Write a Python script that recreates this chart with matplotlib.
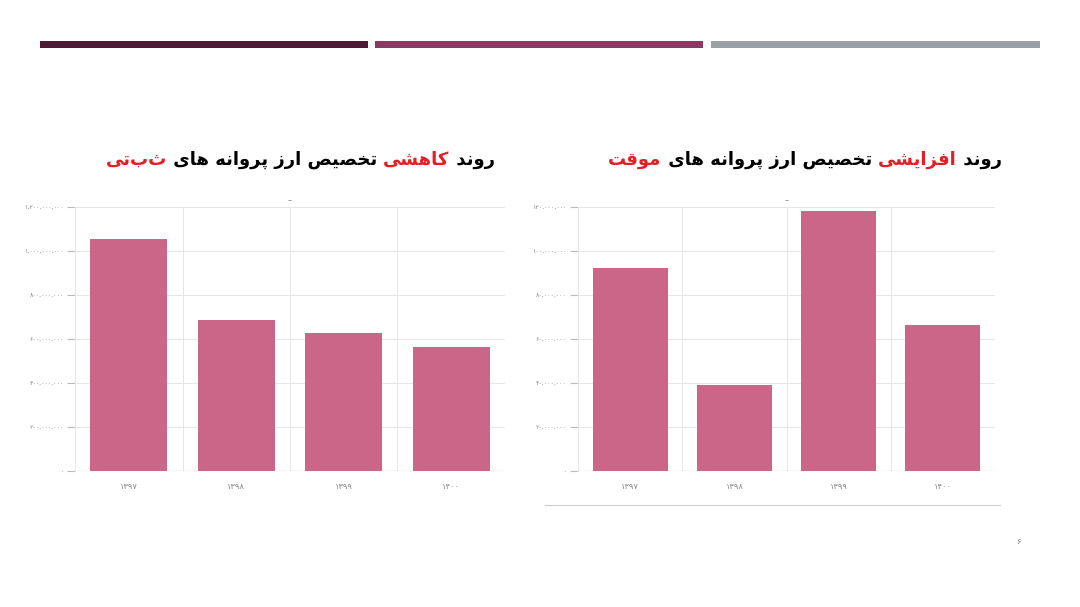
import matplotlib
matplotlib.use("Agg")
import matplotlib.pyplot as plt
from matplotlib.offsetbox import TextArea, HPacker, AnchoredOffsetbox

years = ["1397", "1398", "1399", "1400"]
fixed_values = [1055e6, 686e6, 627e6, 564e6]       # ثبتی
temp_values = [92.3e6, 39.1e6, 118.2e6, 66.4e6]    # موقت
fixed_ticks = [0, 200e6, 400e6, 600e6, 800e6, 1000e6, 1200e6]
temp_ticks = [0, 20e6, 40e6, 60e6, 80e6, 100e6, 120e6]

title_left = [("روند ", "black"), ("کاهشی", "#e31e24"),
              (" تخصیص ارز پروانه های ", "black"), ("ثبتی", "#e31e24")]
title_right = [("روند ", "black"), ("افزایشی", "#e31e24"),
               (" تخصیص ارز پروانه های ", "black"), ("موقت", "#e31e24")]

BAR = "#cc6688"
FA_DIGITS = str.maketrans("0123456789", "۰۱۲۳۴۵۶۷۸۹")

# minimal Arabic shaping: isolated, final, initial, medial
FORMS = {
    "ا": (0xFE8D, 0xFE8E, None, None), "د": (0xFEA9, 0xFEAA, None, None),
    "ر": (0xFEAD, 0xFEAE, None, None), "ز": (0xFEAF, 0xFEB0, None, None),
    "و": (0xFEED, 0xFEEE, None, None),
    "ن": (0xFEE5, 0xFEE6, 0xFEE7, 0xFEE8), "ه": (0xFEE9, 0xFEEA, 0xFEEB, 0xFEEC),
    "ش": (0xFEB5, 0xFEB6, 0xFEB7, 0xFEB8), "ت": (0xFE95, 0xFE96, 0xFE97, 0xFE98),
    "ث": (0xFE99, 0xFE9A, 0xFE9B, 0xFE9C), "خ": (0xFEA5, 0xFEA6, 0xFEA7, 0xFEA8),
    "ص": (0xFEB9, 0xFEBA, 0xFEBB, 0xFEBC), "م": (0xFEE1, 0xFEE2, 0xFEE3, 0xFEE4),
    "ق": (0xFED5, 0xFED6, 0xFED7, 0xFED8), "ف": (0xFED1, 0xFED2, 0xFED3, 0xFED4),
    "پ": (0xFB56, 0xFB57, 0xFB58, 0xFB59), "ک": (0xFB8E, 0xFB8F, 0xFB90, 0xFB91),
    "ی": (0xFBFC, 0xFBFD, 0xFBFE, 0xFBFF),
}


def shape(s):
    out = []
    for i, ch in enumerate(s):
        if ch not in FORMS:
            out.append(ch)
            continue
        prev = s[i - 1] if i > 0 else ""
        nxt = s[i + 1] if i + 1 < len(s) else ""
        join_prev = prev in FORMS and FORMS[prev][2] is not None
        join_next = nxt in FORMS and FORMS[ch][2] is not None
        iso, fin, ini, med = FORMS[ch]
        if join_prev and join_next:
            cp = med
        elif join_prev:
            cp = fin
        elif join_next:
            cp = ini
        else:
            cp = iso
        out.append(chr(cp))
    return "".join(out)[::-1]


def fmt(v):
    return f"{int(v):,}".translate(FA_DIGITS)


fig = plt.figure(figsize=(10.8, 6.07), dpi=100)
W, H = 1080, 607

# top decorative stripes
for x0, x1, c in [(40, 368, "#4d1a36"), (375, 703, "#8c3a63"), (711, 1040, "#9aa0a6")]:
    fig.add_artist(plt.Rectangle((x0 / W, 1 - 48 / H), (x1 - x0) / W, 7 / H,
                                 transform=fig.transFigure, color=c, lw=0))


def draw_panel(rect, values, ticks, title_parts, title_x):
    ax = fig.add_axes(rect)
    x = range(len(years))
    ax.bar(x, values, width=0.72, color=BAR, zorder=2)
    ax.set_xlim(-0.5, len(years) - 0.5)
    ax.set_ylim(0, ticks[-1])
    ax.set_yticks(ticks)
    ax.set_yticklabels([fmt(t) for t in ticks], fontsize=4.5, color="#888888")
    ax.set_xticks(list(x))
    ax.set_xticklabels([y.translate(FA_DIGITS) for y in years], fontsize=6, color="#888888")
    ax.set_xticks([i + 0.5 for i in range(len(years) - 1)], minor=True)
    ax.grid(axis="y", color="#e6e6e6", lw=0.7, zorder=0)
    ax.grid(axis="x", which="minor", color="#e6e6e6", lw=0.7, zorder=0)
    ax.tick_params(axis="both", which="both", length=0, pad=8)
    ax.tick_params(axis="y", length=6, color="#bbbbbb", pad=2)
    for s in ["top", "right", "bottom"]:
        ax.spines[s].set_visible(False)
    ax.spines["left"].set_color("#e6e6e6")
    ax.axhline(0, color="#888888", lw=0.8, zorder=3)
    ax.set_title("–", fontsize=6, color="#888888", pad=3)
    # title, right-to-left pieces laid out left to right visually
    areas = [TextArea(shape(t), textprops=dict(color=c, fontsize=13, fontweight="bold",
                                               family="DejaVu Sans"))
             for t, c in reversed(title_parts)]
    box = HPacker(children=areas, align="baseline", pad=0, sep=0)
    anch = AnchoredOffsetbox(loc="center", child=box, frameon=False,
                             bbox_to_anchor=(title_x, 1 - 160 / H),
                             bbox_transform=fig.transFigure, pad=0, borderpad=0)
    fig.add_artist(anch)
    return ax


draw_panel([75 / W, 1 - 471 / H, 430 / W, 264 / H], fixed_values, fixed_ticks, title_left, 300 / W)
draw_panel([578 / W, 1 - 471 / H, 417 / W, 264 / H], temp_values, temp_ticks, title_right, 805 / W)

fig.add_artist(plt.Line2D([545 / W, 1000 / W], [1 - 505 / H, 1 - 505 / H],
                          transform=fig.transFigure, color="#cccccc", lw=0.8))
fig.text(1018 / W, 1 - 541 / H, "۶", fontsize=6, color="#777777", ha="center", va="center")

fig.savefig("out.png", dpi=100)
